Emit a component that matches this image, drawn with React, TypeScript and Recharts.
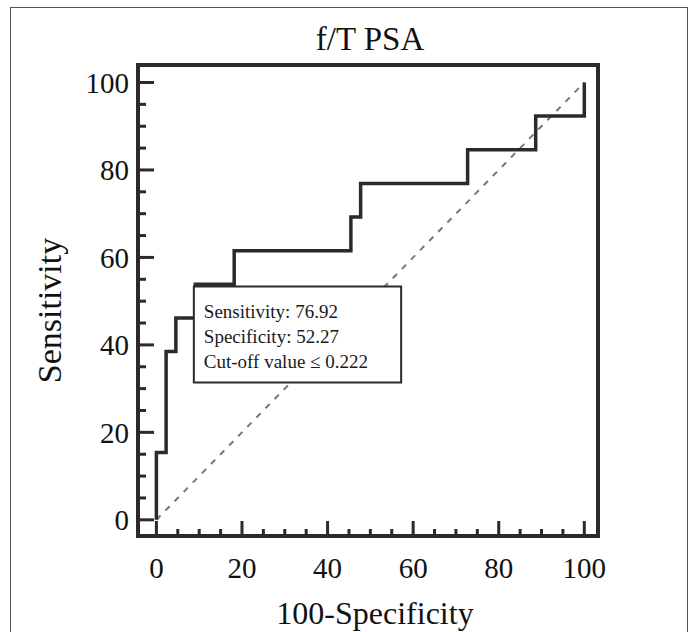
import React from "react";
import {
  ComposedChart,
  Line,
  XAxis,
  YAxis,
  ReferenceArea,
  Label,
} from "recharts";

// ROC curve, f/T PSA (13 positives, 44 negatives)
const fpr = [0, 0, 2.27, 2.27, 4.55, 4.55, 9.09, 9.09, 18.18, 18.18, 45.45, 45.45, 47.73, 47.73, 72.73, 72.73, 88.64, 88.64, 100, 100];
const tpr = [0, 15.38, 15.38, 38.46, 38.46, 46.15, 46.15, 53.85, 53.85, 61.54, 61.54, 69.23, 69.23, 76.92, 76.92, 84.62, 84.62, 92.31, 92.31, 100];

// reference (chance) line
const diagFpr = [0, 100];
const diagTpr = [0, 100];

const tickValues = [0, 5, 10, 15, 20, 25, 30, 35, 40, 45, 50, 55, 60, 65, 70, 75, 80, 85, 90, 95, 100];

// annotation box (data coords) + its lines
const boxX = [8.75, 57.2];
const boxY = [31.4, 53.35];
const boxLines = ["Sensitivity: 76.92", "Specificity: 52.27", "Cut-off value \u2264 0.222"];

const X_DOMAIN: [number, number] = [-4.3, 103.2];
const Y_DOMAIN: [number, number] = [-3.7, 104];

const INK = "#2b2b2b";
const FONT = "'Liberation Serif', 'Times New Roman', serif";

const XTick = (props: any) => {
  const { x, y, payload } = props;
  const v = payload.value as number;
  const major = v % 20 === 0;
  return (
    <g>
      <line x1={x} x2={x} y1={y} y2={y - (major ? 15 : 7)} stroke={INK} strokeWidth={3} />
      {major && (
        <text x={x} y={y + 42} textAnchor="middle" fontFamily={FONT} fontSize={29} fill="#111">
          {v}
        </text>
      )}
    </g>
  );
};

const YTick = (props: any) => {
  const { x, y, payload } = props;
  const v = payload.value as number;
  const major = v % 20 === 0;
  return (
    <g>
      <line x1={x} x2={x + (major ? 16 : 8)} y1={y} y2={y} stroke={INK} strokeWidth={3} />
      {major && (
        <text x={x - 9} y={y} dy="0.36em" textAnchor="end" fontFamily={FONT} fontSize={29} fill="#111">
          {v}
        </text>
      )}
    </g>
  );
};

const BoxText = (props: any) => {
  const vb = props.viewBox;
  if (!vb) return null;
  return (
    <g>
      {boxLines.map((t, i) => (
        <text
          key={t}
          x={vb.x + 10}
          y={vb.y + 31 + i * 25}
          fontFamily={FONT}
          fontSize={19}
          fill="#1a1a1a"
        >
          {t}
        </text>
      ))}
    </g>
  );
};

const App: React.FC = () => {
  const rocData = fpr.map((x, i) => ({ fpr: x, tpr: tpr[i] }));
  const diagData = diagFpr.map((x, i) => ({ fpr: x, tpr: diagTpr[i] }));

  return (
    <div style={{ position: "fixed", left: 0, top: 0, width: 696, height: 632, overflow: "hidden", background: "#fff" }}>
      <div
        style={{
          position: "absolute",
          left: 10,
          top: 7,
          width: 676,
          height: 700,
          border: "1.5px solid #555",
        }}
      />
      <div
        style={{
          position: "absolute",
          left: 0,
          width: 740,
          top: 19,
          textAlign: "center",
          fontFamily: FONT,
          fontSize: 33,
          color: "#111",
          lineHeight: "40px",
        }}
      >
        f/T PSA
      </div>
      <div style={{ position: "absolute", left: 0, top: 0 }}>
        <ComposedChart
          width={696}
          height={632}
          data={rocData}
          margin={{ top: 65, right: 98, left: 78, bottom: 36 }}
        >
          <XAxis
            dataKey="fpr"
            type="number"
            domain={X_DOMAIN}
            allowDataOverflow
            ticks={tickValues}
            interval={0}
            tick={<XTick />}
            tickLine={false}
            axisLine={false}
            tickSize={0}
            tickMargin={0}
            height={60}
          >
            <Label
              content={(p: any) => {
                const vb = p.viewBox;
                if (!vb) return null;
                return (
                  <text x={vb.x + vb.width / 2 + 7} y={vb.y + 88} textAnchor="middle" fontFamily={FONT} fontSize={32} fill="#111">
                    100-Specificity
                  </text>
                );
              }}
            />
          </XAxis>
          <YAxis
            type="number"
            domain={Y_DOMAIN}
            allowDataOverflow
            ticks={tickValues}
            interval={0}
            tick={<YTick />}
            tickLine={false}
            axisLine={false}
            tickSize={0}
            tickMargin={0}
            width={60}
          >
            <Label
              content={(p: any) => {
                const vb = p.viewBox;
                if (!vb) return null;
                const cx = vb.x - 29;
                const cy = vb.y + vb.height / 2 + 10;
                return (
                  <text
                    x={cx}
                    y={cy}
                    transform={`rotate(-90 ${cx} ${cy})`}
                    textAnchor="middle"
                    dominantBaseline="central"
                    fontFamily={FONT}
                    fontSize={34}
                    fill="#111"
                  >
                    Sensitivity
                  </text>
                );
              }}
            />
          </YAxis>

          <Line
            data={diagData}
            dataKey="tpr"
            type="linear"
            stroke="#777"
            strokeWidth={2}
            strokeDasharray="6 7"
            dot={false}
            activeDot={false}
            isAnimationActive={false}
          />
          <Line
            dataKey="tpr"
            type="linear"
            stroke={INK}
            strokeWidth={3.5}
            strokeLinejoin="miter"
            dot={false}
            activeDot={false}
            isAnimationActive={false}
          />

          <ReferenceArea
            x1={boxX[0]}
            x2={boxX[1]}
            y1={boxY[0]}
            y2={boxY[1]}
            fill="#fff"
            fillOpacity={1}
            stroke={INK}
            strokeWidth={2}
            ifOverflow="visible"
            zIndex={450}
            label={<BoxText />}
          />
          <ReferenceArea
            x1={X_DOMAIN[0]}
            x2={X_DOMAIN[1]}
            y1={Y_DOMAIN[0]}
            y2={Y_DOMAIN[1]}
            fill="none"
            stroke={INK}
            strokeWidth={4}
            ifOverflow="visible"
            zIndex={460}
          />
        </ComposedChart>
      </div>
    </div>
  );
};

export default App;
